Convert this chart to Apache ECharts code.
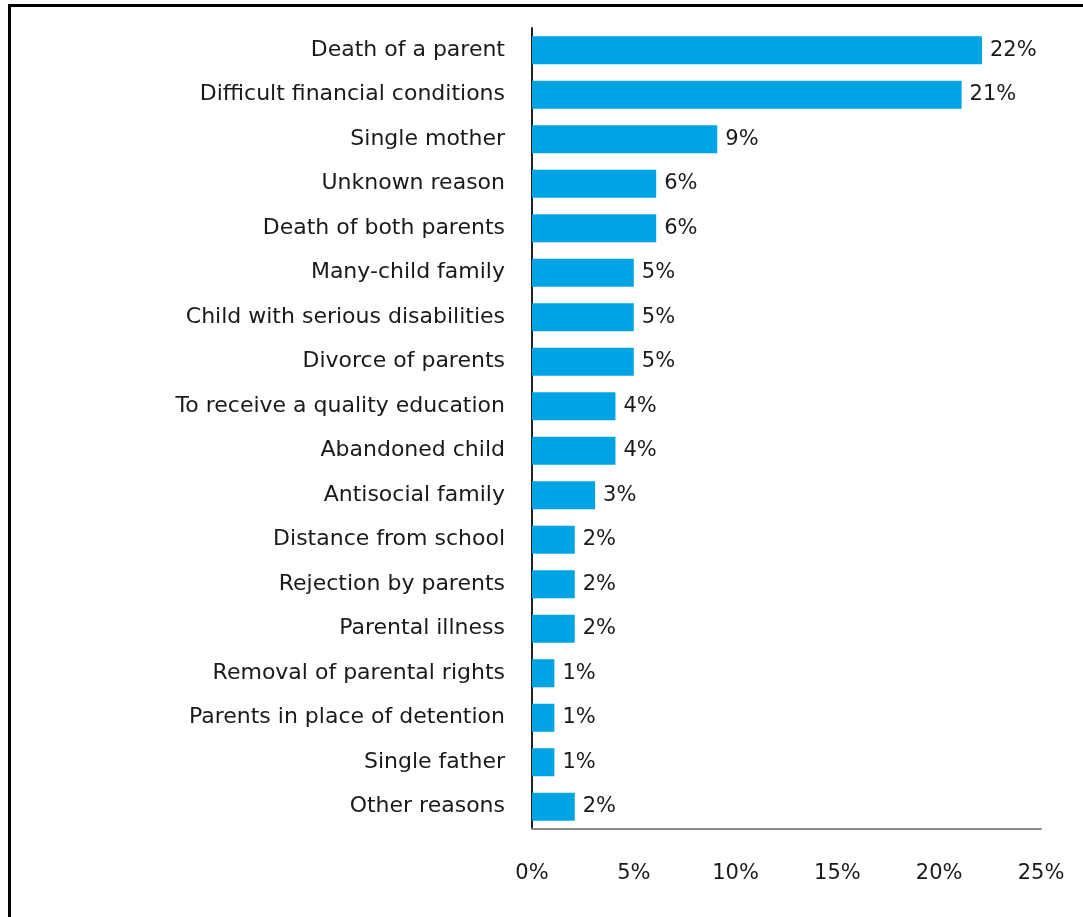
<!DOCTYPE html>
<html>
<head>
<meta charset="utf-8">
<script src="https://cdn.jsdelivr.net/npm/echarts@6/dist/echarts.min.js"></script>
<style>
html,body{margin:0;padding:0;background:#fff;}
#frame{position:absolute;left:8px;top:4px;width:1083px;height:917px;border-left:3px solid #000;border-top:3px solid #000;box-sizing:border-box;}
#chart{position:absolute;left:0;top:0;width:1083px;height:917px;}
</style>
</head>
<body>
<div id="frame"></div>
<div id="chart"></div>
<script>
const categories = [
  "Death of a parent",
  "Difficult financial conditions",
  "Single mother",
  "Unknown reason",
  "Death of both parents",
  "Many-child family",
  "Child with serious disabilities",
  "Divorce of parents",
  "To receive a quality education",
  "Abandoned child",
  "Antisocial family",
  "Distance from school",
  "Rejection by parents",
  "Parental illness",
  "Removal of parental rights",
  "Parents in place of detention",
  "Single father",
  "Other reasons"
];
const values = [22.1, 21.1, 9.1, 6.1, 6.1, 5.0, 5.0, 5.0, 4.1, 4.1, 3.1, 2.1, 2.1, 2.1, 1.1, 1.1, 1.1, 2.1];
const valueLabels = ["22%","21%","9%","6%","6%","5%","5%","5%","4%","4%","3%","2%","2%","2%","1%","1%","1%","2%"];
const xTicks = [0, 5, 10, 15, 20, 25];

const chart = echarts.init(document.getElementById('chart'), null, {renderer: 'canvas'});
const FONT = 'DejaVu Sans';
chart.setOption({
  animation: false,
  backgroundColor: 'transparent',
  grid: {left: 532, right: 42, top: 28, bottom: 88, containLabel: false},
  xAxis: {
    type: 'value',
    min: xTicks[0],
    max: xTicks[xTicks.length - 1],
    interval: 5,
    axisLine: {show: true, lineStyle: {color: '#8a8a8a', width: 2}},
    axisTick: {show: false},
    splitLine: {show: false},
    axisLabel: {
      margin: 34,
      color: '#1a1a1a',
      fontFamily: FONT,
      fontSize: 21,
      formatter: v => v + '%'
    }
  },
  yAxis: {
    type: 'category',
    data: categories,
    inverse: true,
    axisLine: {show: true, onZero: false, lineStyle: {color: '#222', width: 2}},
    axisTick: {show: false},
    axisLabel: {
      margin: 27,
      color: '#1a1a1a',
      fontFamily: FONT,
      fontSize: 22
    }
  },
  series: [{
    type: 'bar',
    data: values,
    barCategoryGap: '37%',
    itemStyle: {color: '#00A3E4'},
    label: {
      show: true,
      position: 'right',
      distance: 8,
      color: '#1a1a1a',
      fontFamily: FONT,
      fontSize: 21,
      formatter: p => valueLabels[p.dataIndex]
    }
  }]
});
</script>
</body>
</html>
